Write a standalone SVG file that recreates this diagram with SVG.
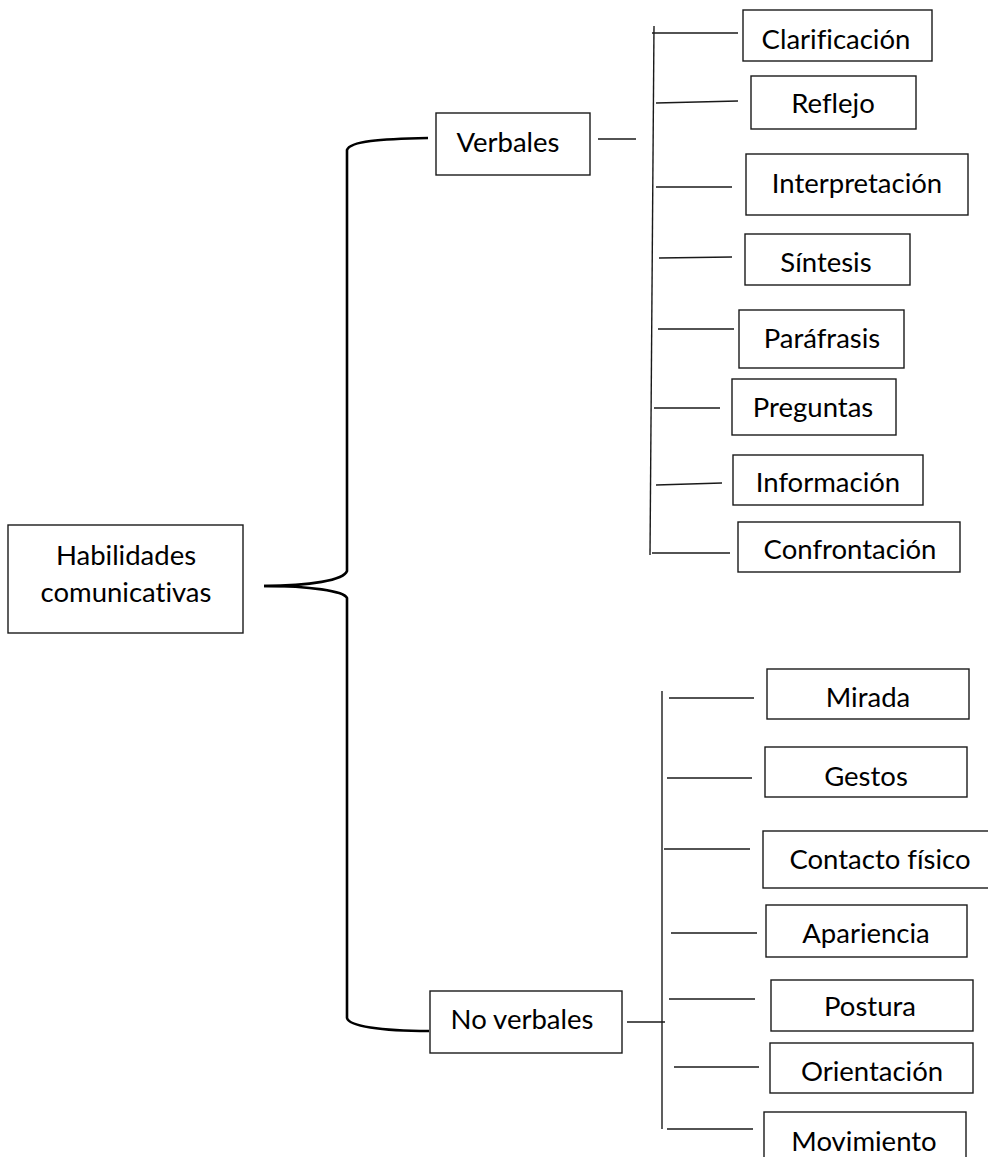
<svg xmlns="http://www.w3.org/2000/svg" width="988" height="1157" viewBox="0 0 988 1157">
<style>
.box{fill:#fff;stroke:#1a1a1a;stroke-width:1.4}
.ln{fill:none;stroke:#1a1a1a;stroke-width:1.4}
.brace{fill:none;stroke:#000;stroke-width:2.6}
text{font-family:Lato,"Liberation Sans",sans-serif;font-size:27.5px;fill:#000;text-anchor:middle;font-variant-ligatures:none}
</style>
<rect width="988" height="1157" fill="#fff"/>
<g id="connectors">
<path class="brace" d="M428,138 C380,139 350,141 347,150 L347,571 C344,580 310,586 264,586"/>
<path class="brace" d="M264,586 C310,586 344,591 347,598 L347,1018 C349,1026 380,1031 429,1031"/>
<line class="ln" x1="598" y1="139" x2="636" y2="139"/>
<line class="ln" x1="654" y1="26" x2="650" y2="555"/>
<line class="ln" x1="652" y1="33" x2="738" y2="33"/>
<line class="ln" x1="656" y1="103" x2="738" y2="101"/>
<line class="ln" x1="656" y1="187" x2="732" y2="187"/>
<line class="ln" x1="659" y1="258" x2="732" y2="257"/>
<line class="ln" x1="658" y1="329" x2="734" y2="329"/>
<line class="ln" x1="654" y1="408" x2="720" y2="408"/>
<line class="ln" x1="656" y1="485" x2="722" y2="483"/>
<line class="ln" x1="652" y1="553" x2="730" y2="553"/>
<line class="ln" x1="627" y1="1022" x2="665" y2="1022"/>
<line class="ln" x1="662" y1="691" x2="662" y2="1129"/>
<line class="ln" x1="669" y1="698" x2="754" y2="698"/>
<line class="ln" x1="667" y1="778" x2="752" y2="778"/>
<line class="ln" x1="664" y1="849" x2="750" y2="849"/>
<line class="ln" x1="671" y1="933" x2="757" y2="933"/>
<line class="ln" x1="669" y1="999" x2="755" y2="999"/>
<line class="ln" x1="674" y1="1067" x2="759" y2="1067"/>
<line class="ln" x1="667" y1="1129" x2="753" y2="1129"/>
</g>
<g id="habilidades"><rect class="box" x="8" y="525" width="235" height="108"/><text x="126" y="565">Habilidades</text><text x="126" y="602">comunicativas</text></g>
<g id="verbales"><rect class="box" x="436" y="113" width="154" height="62"/><text x="508" y="152">Verbales</text></g>
<g id="noverbales"><rect class="box" x="430" y="991" width="192" height="62"/><text x="522" y="1029">No verbales</text></g>
<g id="clarificacion"><rect class="box" x="743" y="10" width="189" height="51"/><text x="836" y="49">Clarificación</text></g>
<g id="reflejo"><rect class="box" x="751" y="76" width="165" height="53"/><text x="833" y="113">Reflejo</text></g>
<g id="interpretacion"><rect class="box" x="746" y="154" width="222" height="61"/><text x="857" y="193">Interpretación</text></g>
<g id="sintesis"><rect class="box" x="745" y="234" width="165" height="51"/><text x="826" y="272">Síntesis</text></g>
<g id="parafrasis"><rect class="box" x="739" y="310" width="165" height="58"/><text x="822" y="348">Paráfrasis</text></g>
<g id="preguntas"><rect class="box" x="732" y="379" width="164" height="56"/><text x="813" y="417">Preguntas</text></g>
<g id="informacion"><rect class="box" x="733" y="455" width="190" height="50"/><text x="828" y="492">Información</text></g>
<g id="confrontacion"><rect class="box" x="738" y="522" width="222" height="50"/><text x="850" y="559">Confrontación</text></g>
<g id="mirada"><rect class="box" x="767" y="669" width="202" height="50"/><text x="868" y="707">Mirada</text></g>
<g id="gestos"><rect class="box" x="765" y="747" width="202" height="50"/><text x="866" y="786">Gestos</text></g>
<g id="contacto"><rect class="box" x="763" y="831" width="232" height="57"/><text x="880" y="869">Contacto físico</text></g>
<g id="apariencia"><rect class="box" x="766" y="905" width="201" height="52"/><text x="866" y="943">Apariencia</text></g>
<g id="postura"><rect class="box" x="771" y="980" width="202" height="51"/><text x="870" y="1016">Postura</text></g>
<g id="orientacion"><rect class="box" x="770" y="1043" width="203" height="50"/><text x="872" y="1081">Orientación</text></g>
<g id="movimiento"><rect class="box" x="764" y="1112" width="202" height="60"/><text x="864" y="1151">Movimiento</text></g>
</svg>
